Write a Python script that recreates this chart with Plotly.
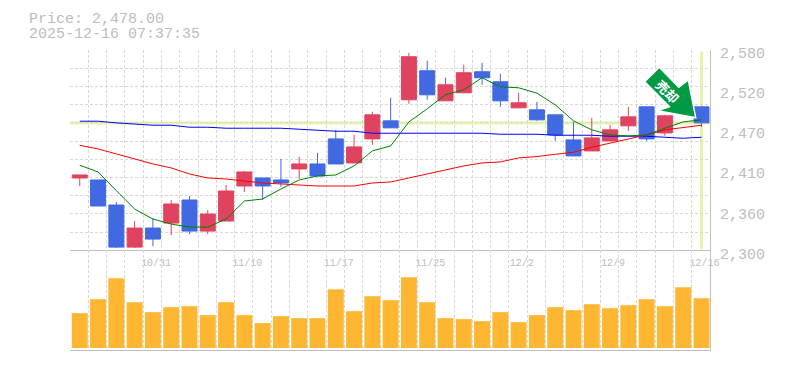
import plotly.graph_objects as go
from plotly.subplots import make_subplots

# ---- data ----
opens = [2401.2, 2398.4, 2363.4, 2304.6, 2331.2, 2338.2, 2370.4, 2327.0, 2341.0, 2390.0, 2401.2, 2398.4,
         2413.8, 2420.8, 2455.8, 2422.2, 2455.8, 2481.0, 2510.4, 2551.0, 2509.0, 2520.2, 2549.6, 2535.6,
         2499.2, 2496.4, 2489.4, 2454.4, 2439.0, 2453.0, 2474.0, 2500.6, 2464.2, 2494.0, 2500.6]
closes = [2405.4, 2362.0, 2304.6, 2331.2, 2315.8, 2364.8, 2327.0, 2350.8, 2383.0, 2409.6, 2390.0, 2394.2,
          2420.8, 2404.0, 2420.8, 2444.6, 2489.4, 2471.2, 2570.6, 2517.4, 2531.4, 2548.2, 2541.2, 2509.0,
          2506.2, 2482.4, 2461.4, 2432.0, 2457.2, 2468.4, 2486.6, 2455.8, 2488.0, 2510.0, 2478.2]
highs = [2405.4, 2398.4, 2367.6, 2341.0, 2345.2, 2370.4, 2376.0, 2356.4, 2391.4, 2411.0, 2401.2, 2427.8,
         2430.6, 2436.2, 2468.4, 2461.4, 2493.6, 2513.2, 2576.2, 2565.0, 2541.2, 2559.4, 2562.2, 2546.8,
         2520.2, 2507.6, 2489.4, 2479.6, 2485.2, 2475.4, 2500.6, 2500.6, 2489.4, 2515.0, 2500.6]
lows = [2390.0, 2362.0, 2303.2, 2303.2, 2306.0, 2321.4, 2322.8, 2322.8, 2341.0, 2381.6, 2370.4, 2388.6,
        2399.8, 2404.0, 2420.8, 2422.2, 2447.4, 2471.2, 2504.8, 2510.4, 2509.0, 2520.2, 2531.4, 2500.6,
        2499.2, 2481.0, 2453.0, 2432.0, 2439.0, 2453.0, 2467.0, 2453.0, 2460.0, 2494.0, 2472.6]
ma_short = [2419.0, 2409.6, 2383.5, 2357.8, 2343.8, 2336.8, 2332.6, 2332.6, 2343.8, 2369.0, 2371.8, 2385.8,
            2398.4, 2404.0, 2405.4, 2418.0, 2439.0, 2446.0, 2479.6, 2497.8, 2517.4, 2524.4, 2541.2, 2528.6,
            2527.2, 2519.7, 2503.4, 2481.0, 2468.4, 2461.4, 2460.0, 2461.4, 2470.7, 2479.6, 2482.4]
ma_mid = [2446.9, 2441.8, 2434.8, 2427.8, 2420.8, 2415.2, 2406.8, 2401.2, 2399.8, 2397.0, 2394.2, 2392.8,
          2391.4, 2390.0, 2390.0, 2390.0, 2394.2, 2395.6, 2401.2, 2406.8, 2412.4, 2418.0, 2422.2, 2423.6,
          2429.2, 2431.1, 2434.3, 2437.1, 2444.1, 2449.7, 2455.8, 2461.4, 2468.4, 2472.1, 2474.9]
ma_long = [2480.5, 2480.5, 2478.2, 2476.3, 2474.9, 2474.9, 2472.1, 2472.1, 2470.7, 2470.7, 2470.7, 2470.7,
           2469.3, 2467.9, 2466.5, 2466.5, 2463.7, 2463.7, 2463.7, 2463.7, 2463.7, 2463.7, 2463.7, 2462.3,
           2462.3, 2462.3, 2460.9, 2460.9, 2460.9, 2459.5, 2459.5, 2459.5, 2458.1, 2456.7, 2458.1]
volumes = [1050, 1470, 2100, 1380, 1080, 1230, 1260, 990, 1380, 990, 750, 960, 900, 900, 1770, 1110, 1560, 1440,
           2130, 1380, 900, 870, 810, 1080, 780, 990, 1230, 1140, 1320, 1200, 1290, 1470, 1260, 1830, 1500]
date_positions = [4, 9, 14, 19, 24, 29, 34]
date_labels = ["10/31", "11/10", "11/17", "11/25", "12/2", "12/9", "12/16"]
price_ticks = [2580, 2524, 2468, 2412, 2356, 2300]
price_labels = ["2,580", "2,520", "2,470", "2,410", "2,360", "2,300"]
last_price = 2478
header_lines = ["Price: 2,478.00", "2025-12-16 07:37:35"]
signal_text = "売却"

# ---- styles ----
W, H = 785, 370
MONO = "Liberation Mono"
GREY = "#bdbdbd"
GRID = "#d8d8d8"
DASH = "3px,2px"
UP, DOWN = "#E0435F", "#4169E1"
HILITE = "#E5F5A9"
L, R, T, B = 70, 75, 50, 20
X_EDGE = 0.535
days = list(range(len(opens)))
grid_x = [i - X_EDGE for i in range(len(opens) + 1)]
grid_y = [2300 + k * 280 / 11 for k in range(12)]

fig = make_subplots(rows=2, cols=1, shared_xaxes=False, vertical_spacing=0, row_heights=[0.668, 0.332])

for vals, col in ((ma_long, "#0000FF"), (ma_mid, "#FF0000"), (ma_short, "#008000")):
    fig.add_trace(go.Scatter(x=days, y=vals, mode="lines", line=dict(color=col, width=1)), row=1, col=1)

fig.add_trace(go.Candlestick(
    x=days, open=opens, high=highs, low=lows, close=closes, whiskerwidth=0,
    increasing=dict(line=dict(color=UP, width=1), fillcolor=UP),
    decreasing=dict(line=dict(color=DOWN, width=1), fillcolor=DOWN)), row=1, col=1)

fig.add_trace(go.Bar(x=days, y=volumes, width=0.875, marker=dict(color="#FFB733", line_width=0)), row=2, col=1)

minor_x = dict(tickvals=grid_x, showgrid=True, gridcolor=GRID, griddash=DASH, gridwidth=1, ticks="")
tick_font = dict(family=MONO, size=10, color=GREY)
fig.update_xaxes(range=[-X_EDGE, 35 - X_EDGE], minor=minor_x, showgrid=False, zeroline=False, showline=True,
                 automargin=False, linecolor="#c0c0c0", linewidth=1, ticks="", rangeslider_visible=False)
fig.update_xaxes(row=1, col=1, tickmode="array", tickvals=date_positions, ticktext=date_labels,
                 tickfont=tick_font, showticklabels=True, ticklabelshift=3, ticklabelstandoff=3, ticklabeloverflow="allow")
fig.update_xaxes(row=2, col=1, showticklabels=False)
fig.update_yaxes(row=1, col=1, range=[2300, 2580], side="right", tickmode="array", tickvals=price_ticks, automargin=False,
                 ticktext=price_labels, tickfont=dict(family=MONO, size=15, color=GREY), ticks="",
                 showgrid=False, zeroline=False, showline=True, linecolor="#c0c0c0", linewidth=1,
                 ticklabelshift=3, ticklabelstandoff=6, ticklabeloverflow="allow",
                 minor=dict(tickvals=grid_y, showgrid=True, gridcolor=GRID, griddash=DASH, gridwidth=1, ticks=""))
fig.update_yaxes(row=2, col=1, range=[-60, 2940], side="right", showticklabels=False, showgrid=False, automargin=False,
                 zeroline=False, showline=True, linecolor="#c0c0c0", linewidth=1, ticks="")

# highlighted last price / last date
fig.add_shape(type="line", xref="x", yref="y", x0=-X_EDGE, x1=35 - X_EDGE, y0=last_price, y1=last_price,
              line=dict(color=HILITE, width=3), layer="below")
fig.add_shape(type="line", xref="x", yref="y", x0=34, x1=34, y0=2302, y1=2578,
              line=dict(color=HILITE, width=3), layer="below")

# signal arrow
arrow_px = [(659.3, 67.3), (644.7, 81.7), (669.5, 106.7), (657.7, 110.8), (695.7, 117.7), (688.3, 80), (678.8, 87.3)]
pw, ph = W - L - R, H - T - B
pts = [((x - L) / pw, 1 - (y - T) / ph) for x, y in arrow_px]
path = "M " + " L ".join(f"{x:.4f} {y:.4f}" for x, y in pts) + " Z"
fig.add_shape(type="path", xref="paper", yref="paper", path=path, fillcolor="#009944",
              line=dict(color="#ffffff", width=1.5), layer="above")
fig.add_annotation(xref="paper", yref="paper", x=(668 - L) / pw, y=1 - (91 - T) / ph, text=f"<b>{signal_text}</b>",
                   xanchor="center", yanchor="middle", textangle=45, showarrow=False,
                   font=dict(family="Noto Sans CJK JP", size=13, color="#ffffff"))

for text, yy in zip(header_lines, (19, 34)):
    fig.add_annotation(xref="paper", yref="paper", x=(28 - L) / pw, y=1 - (yy - T) / ph, xanchor="left",
                       yanchor="middle", text=text, showarrow=False, font=dict(family=MONO, size=15, color=GREY),
                       borderpad=0, height=14)

fig.update_layout(width=W, height=H, autosize=False, margin=dict(l=L, r=R, t=T, b=B), showlegend=False,
                  paper_bgcolor="#ffffff", plot_bgcolor="#ffffff", hovermode=False, boxgap=0.18, boxgroupgap=0)
fig.write_html("out.html", config={"displayModeBar": False},
               post_script="document.body.style.margin='0';document.documentElement.style.overflow='hidden';window.dispatchEvent(new Event('resize'));")
